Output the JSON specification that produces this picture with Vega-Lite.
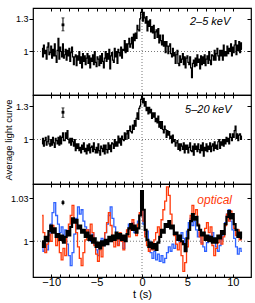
{
"$schema":"https://vega.github.io/schema/vega-lite/v6.json",
"padding":{"left":2,"top":6,"right":5,"bottom":0},
"spacing":0,
"bounds":"flush",
"config":{"view":{"stroke":"black","strokeWidth":1.2},"axis":{"grid":false,"domain":false,"tickColor":"black","tickWidth":1,"labelFont":"Liberation Sans","labelFontSize":9,"labelColor":"black","titleFont":"Liberation Sans","titleFontSize":11,"titleFontWeight":"normal","titleColor":"black","labelFlush":false,"minExtent":0}},
"datasets":{"x":[
{"t":-11.0,"h":1.03,"m":0.96},{"t":-10.9,"h":0.95,"m":1.01},{"t":-10.8,"h":1.06,"m":0.94},{"t":-10.7,"h":0.98,"m":0.99},{"t":-10.6,"h":1.01,"m":1.02},
{"t":-10.5,"h":0.93,"m":0.95},{"t":-10.4,"h":1.04,"m":0.98},{"t":-10.3,"h":1.08,"m":1.03},{"t":-10.2,"h":0.97,"m":0.96},{"t":-10.1,"h":0.99,"m":0.94},
{"t":-10.0,"h":1.05,"m":1.00},{"t":-9.9,"h":0.94,"m":0.95},{"t":-9.8,"h":1.02,"m":1.02},{"t":-9.7,"h":0.96,"m":0.97},{"t":-9.6,"h":1.07,"m":0.93},
{"t":-9.5,"h":0.96,"m":1.01},{"t":-9.4,"h":0.90,"m":0.99},{"t":-9.3,"h":1.01,"m":0.96},{"t":-9.2,"h":1.12,"m":1.02},{"t":-9.1,"h":0.93,"m":0.95},
{"t":-9.0,"h":1.04,"m":1.03},{"t":-8.9,"h":1.00,"m":0.96},{"t":-8.8,"h":0.95,"m":1.02},{"t":-8.7,"h":1.07,"m":1.06},{"t":-8.6,"h":0.94,"m":0.99},
{"t":-8.5,"h":0.97,"m":0.99},{"t":-8.4,"h":1.02,"m":1.06},{"t":-8.3,"h":0.92,"m":1.01},{"t":-8.2,"h":1.01,"m":1.08},{"t":-8.1,"h":0.96,"m":1.00},
{"t":-8.0,"h":1.03,"m":0.97},{"t":-7.9,"h":0.91,"m":1.01},{"t":-7.8,"h":0.99,"m":0.95},{"t":-7.7,"h":1.04,"m":1.01},{"t":-7.6,"h":0.95,"m":0.98},
{"t":-7.5,"h":0.88,"m":0.94},{"t":-7.4,"h":0.95,"m":1.00},{"t":-7.3,"h":0.97,"m":0.90},{"t":-7.2,"h":0.87,"m":0.96},{"t":-7.1,"h":0.96,"m":0.92},
{"t":-7.0,"h":0.92,"m":0.96},{"t":-6.9,"h":1.00,"m":0.90},{"t":-6.8,"h":0.89,"m":0.93},{"t":-6.7,"h":0.95,"m":0.88},{"t":-6.6,"h":0.85,"m":0.95},
{"t":-6.5,"h":0.98,"m":0.91},{"t":-6.4,"h":0.91,"m":0.97},{"t":-6.3,"h":0.96,"m":0.89},{"t":-6.2,"h":0.88,"m":0.92},{"t":-6.1,"h":0.94,"m":0.87},
{"t":-6.0,"h":0.98,"m":0.95},{"t":-5.9,"h":0.89,"m":0.90},{"t":-5.8,"h":0.96,"m":0.96},{"t":-5.7,"h":0.85,"m":0.88},{"t":-5.6,"h":0.94,"m":0.93},
{"t":-5.5,"h":0.91,"m":0.94},{"t":-5.4,"h":0.97,"m":0.89},{"t":-5.3,"h":0.88,"m":0.97},{"t":-5.2,"h":1.00,"m":0.91},{"t":-5.1,"h":0.90,"m":0.88},
{"t":-5.0,"h":0.86,"m":0.93},{"t":-4.9,"h":0.95,"m":0.88},{"t":-4.8,"h":0.93,"m":0.96},{"t":-4.7,"h":0.87,"m":0.90},{"t":-4.6,"h":0.96,"m":0.86},
{"t":-4.5,"h":0.89,"m":0.94},{"t":-4.4,"h":0.98,"m":0.92},{"t":-4.3,"h":0.91,"m":0.89},{"t":-4.2,"h":0.85,"m":0.95},{"t":-4.1,"h":0.94,"m":0.87},
{"t":-4.0,"h":1.00,"m":0.95},{"t":-3.9,"h":0.91,"m":0.91},{"t":-3.8,"h":0.98,"m":0.88},{"t":-3.7,"h":0.93,"m":0.97},{"t":-3.6,"h":1.02,"m":0.91},
{"t":-3.5,"h":0.84,"m":0.95},{"t":-3.4,"h":0.96,"m":0.89},{"t":-3.3,"h":0.99,"m":0.97},{"t":-3.2,"h":0.92,"m":0.96},{"t":-3.1,"h":0.90,"m":0.92},
{"t":-3.0,"h":1.03,"m":1.00},{"t":-2.9,"h":0.95,"m":0.94},{"t":-2.8,"h":1.00,"m":0.98},{"t":-2.7,"h":0.89,"m":0.94},{"t":-2.6,"h":1.02,"m":1.03},
{"t":-2.5,"h":0.99,"m":0.97},{"t":-2.4,"h":0.96,"m":1.01},{"t":-2.3,"h":1.04,"m":0.95},{"t":-2.2,"h":0.94,"m":1.03},{"t":-2.1,"h":1.02,"m":1.00},
{"t":-2.0,"h":1.01,"m":0.99},{"t":-1.9,"h":1.10,"m":1.06},{"t":-1.8,"h":0.99,"m":1.00},{"t":-1.7,"h":1.07,"m":1.05},{"t":-1.6,"h":1.00,"m":1.08},
{"t":-1.5,"h":1.07,"m":1.01},{"t":-1.4,"h":1.12,"m":1.08},{"t":-1.3,"h":1.04,"m":1.12},{"t":-1.2,"h":1.07,"m":1.07},{"t":-1.1,"h":1.13,"m":1.06},
{"t":-1.0,"h":1.03,"m":1.13},{"t":-0.9,"h":1.16,"m":1.09},{"t":-0.8,"h":1.10,"m":1.17},{"t":-0.7,"h":1.17,"m":1.12},{"t":-0.6,"h":1.12,"m":1.19},
{"t":-0.5,"h":1.24,"m":1.24},{"t":-0.4,"h":1.20,"m":1.18},{"t":-0.3,"h":1.19,"m":1.28},{"t":-0.2,"h":1.30,"m":1.30},{"t":-0.1,"h":1.36,"m":1.36},
{"t":0.0,"h":1.40,"m":1.41},{"t":0.1,"h":1.28,"m":1.33},{"t":0.2,"h":1.36,"m":1.37},{"t":0.3,"h":1.31,"m":1.30},{"t":0.4,"h":1.26,"m":1.34},
{"t":0.5,"h":1.32,"m":1.26},{"t":0.6,"h":1.19,"m":1.29},{"t":0.7,"h":1.28,"m":1.23},{"t":0.8,"h":1.23,"m":1.29},{"t":0.9,"h":1.29,"m":1.24},
{"t":1.0,"h":1.18,"m":1.27},{"t":1.1,"h":1.23,"m":1.19},{"t":1.2,"h":1.17,"m":1.24},{"t":1.3,"h":1.24,"m":1.20},{"t":1.4,"h":1.12,"m":1.24},
{"t":1.5,"h":1.18,"m":1.16},{"t":1.6,"h":1.20,"m":1.19},{"t":1.7,"h":1.13,"m":1.15},{"t":1.8,"h":1.21,"m":1.21},{"t":1.9,"h":1.08,"m":1.11},
{"t":2.0,"h":1.15,"m":1.16},{"t":2.1,"h":1.10,"m":1.10},{"t":2.2,"h":1.06,"m":1.16},{"t":2.3,"h":1.15,"m":1.09},{"t":2.4,"h":1.05,"m":1.06},
{"t":2.5,"h":1.09,"m":1.12},{"t":2.6,"h":0.99,"m":1.09},{"t":2.7,"h":1.09,"m":1.02},{"t":2.8,"h":1.05,"m":1.08},{"t":2.9,"h":0.98,"m":1.04},
{"t":3.0,"h":1.05,"m":1.07},{"t":3.1,"h":1.07,"m":1.01},{"t":3.2,"h":0.98,"m":1.03},{"t":3.3,"h":0.95,"m":0.97},{"t":3.4,"h":1.03,"m":1.04},
{"t":3.5,"h":0.96,"m":0.98},{"t":3.6,"h":0.99,"m":1.00},{"t":3.7,"h":0.89,"m":0.94},{"t":3.8,"h":0.97,"m":0.97},{"t":3.9,"h":1.01,"m":0.99},
{"t":4.0,"h":0.89,"m":0.91},{"t":4.1,"h":0.87,"m":0.96},{"t":4.2,"h":0.96,"m":0.90},{"t":4.3,"h":0.90,"m":0.96},{"t":4.4,"h":0.93,"m":0.94},
{"t":4.5,"h":0.98,"m":0.91},{"t":4.6,"h":0.88,"m":0.97},{"t":4.7,"h":0.95,"m":0.88},{"t":4.8,"h":0.85,"m":0.95},{"t":4.9,"h":0.94,"m":0.91},
{"t":5.0,"h":0.96,"m":0.95},{"t":5.1,"h":0.90,"m":0.88},{"t":5.2,"h":0.88,"m":0.93},{"t":5.3,"h":0.95,"m":0.97},{"t":5.4,"h":0.85,"m":0.90},
{"t":5.5,"h":0.76,"m":0.89},{"t":5.6,"h":0.89,"m":0.94},{"t":5.7,"h":0.92,"m":0.86},{"t":5.8,"h":0.86,"m":0.96},{"t":5.9,"h":0.94,"m":0.91},
{"t":6.0,"h":0.87,"m":0.94},{"t":6.1,"h":0.97,"m":0.89},{"t":6.2,"h":0.90,"m":0.96},{"t":6.3,"h":0.93,"m":0.91},{"t":6.4,"h":0.84,"m":0.88},
{"t":6.5,"h":0.96,"m":0.95},{"t":6.6,"h":0.88,"m":0.90},{"t":6.7,"h":0.95,"m":0.97},{"t":6.8,"h":0.89,"m":0.85},{"t":6.9,"h":0.97,"m":0.93},
{"t":7.0,"h":0.87,"m":0.90},{"t":7.1,"h":0.93,"m":0.96},{"t":7.2,"h":0.96,"m":0.89},{"t":7.3,"h":0.89,"m":0.94},{"t":7.4,"h":1.00,"m":0.91},
{"t":7.5,"h":0.92,"m":0.97},{"t":7.6,"h":0.88,"m":0.89},{"t":7.7,"h":0.97,"m":0.94},{"t":7.8,"h":0.96,"m":0.96},{"t":7.9,"h":0.92,"m":0.90},
{"t":8.0,"h":1.01,"m":0.98},{"t":8.1,"h":0.92,"m":0.92},{"t":8.2,"h":0.98,"m":0.95},{"t":8.3,"h":1.03,"m":0.91},{"t":8.4,"h":0.96,"m":0.98},
{"t":8.5,"h":0.92,"m":1.00},{"t":8.6,"h":1.01,"m":0.92},{"t":8.7,"h":0.96,"m":0.98},{"t":8.8,"h":1.01,"m":0.95},{"t":8.9,"h":0.92,"m":1.00},
{"t":9.0,"h":1.06,"m":0.94},{"t":9.1,"h":0.96,"m":1.00},{"t":9.2,"h":1.00,"m":0.96},{"t":9.3,"h":0.96,"m":1.02},{"t":9.4,"h":1.05,"m":0.98},
{"t":9.5,"h":0.98,"m":1.01},{"t":9.6,"h":1.03,"m":0.96},{"t":9.7,"h":1.00,"m":1.05},{"t":9.8,"h":1.07,"m":1.02},{"t":9.9,"h":0.96,"m":0.99},
{"t":10.0,"h":1.04,"m":1.05},{"t":10.1,"h":0.99,"m":1.02},{"t":10.2,"h":1.06,"m":1.08},{"t":10.3,"h":1.10,"m":1.12},{"t":10.4,"h":0.97,"m":1.01},
{"t":10.5,"h":1.06,"m":1.05},{"t":10.6,"h":1.01,"m":0.99},{"t":10.7,"h":1.09,"m":1.04},{"t":10.8,"h":0.99,"m":1.05},{"t":10.9,"h":1.08,"m":1.00},
{"t":11.0,"h":1.02,"m":1.03}
],
"o":[
{"t":-11.0,"k":1.000,"b":0.996,"r":1.018},{"t":-10.8,"k":0.996,"b":0.993,"r":1.006},{"t":-10.6,"k":1.003,"b":0.998,"r":0.992},{"t":-10.4,"k":1.000,"b":0.994,"r":0.998},{"t":-10.2,"k":1.007,"b":1.004,"r":1.005},
{"t":-10.0,"k":1.011,"b":1.012,"r":1.000},{"t":-9.8,"k":1.006,"b":1.020,"r":1.011},{"t":-9.6,"k":1.009,"b":1.027,"r":1.006},{"t":-9.4,"k":1.003,"b":1.018,"r":0.997},{"t":-9.2,"k":1.005,"b":1.012,"r":1.003},
{"t":-9.0,"k":1.001,"b":1.006,"r":0.992},{"t":-8.8,"k":1.004,"b":1.010,"r":0.987},{"t":-8.6,"k":0.999,"b":1.003,"r":0.995},{"t":-8.4,"k":1.003,"b":1.008,"r":0.990},{"t":-8.2,"k":1.007,"b":0.998,"r":1.004},
{"t":-8.0,"k":1.004,"b":0.990,"r":1.012},{"t":-7.8,"k":1.010,"b":0.983,"r":1.018},{"t":-7.6,"k":1.016,"b":0.992,"r":1.025},{"t":-7.4,"k":1.013,"b":1.005,"r":1.014},{"t":-7.2,"k":1.015,"b":1.016,"r":1.006},
{"t":-7.0,"k":1.009,"b":1.024,"r":0.996},{"t":-6.8,"k":1.011,"b":1.019,"r":0.988},{"t":-6.6,"k":1.006,"b":1.022,"r":0.983},{"t":-6.4,"k":1.008,"b":1.014,"r":0.992},{"t":-6.2,"k":1.003,"b":1.010,"r":1.001},
{"t":-6.0,"k":1.006,"b":1.004,"r":1.008},{"t":-5.8,"k":1.001,"b":1.008,"r":1.003},{"t":-5.6,"k":1.004,"b":1.000,"r":1.012},{"t":-5.4,"k":0.999,"b":1.005,"r":1.006},{"t":-5.2,"k":1.002,"b":0.998,"r":0.997},
{"t":-5.0,"k":0.996,"b":0.994,"r":0.991},{"t":-4.8,"k":0.999,"b":0.990,"r":0.986},{"t":-4.6,"k":0.995,"b":0.996,"r":0.994},{"t":-4.4,"k":1.000,"b":1.002,"r":0.989},{"t":-4.2,"k":0.997,"b":0.997,"r":0.998},
{"t":-4.0,"k":1.001,"b":1.006,"r":1.006},{"t":-3.8,"k":0.998,"b":1.012,"r":1.013},{"t":-3.6,"k":1.003,"b":1.018,"r":1.020},{"t":-3.4,"k":1.000,"b":1.024,"r":1.011},{"t":-3.2,"k":1.004,"b":1.016,"r":1.004},
{"t":-3.0,"k":1.001,"b":1.010,"r":0.996},{"t":-2.8,"k":1.006,"b":1.003,"r":1.003},{"t":-2.6,"k":1.002,"b":0.998,"r":0.997},{"t":-2.4,"k":1.005,"b":1.004,"r":1.006},{"t":-2.2,"k":1.001,"b":1.000,"r":1.000},
{"t":-2.0,"k":1.004,"b":0.995,"r":0.994},{"t":-1.8,"k":1.000,"b":1.002,"r":1.001},{"t":-1.6,"k":1.005,"b":1.007,"r":1.008},{"t":-1.4,"k":1.009,"b":1.012,"r":1.003},{"t":-1.2,"k":1.012,"b":1.008,"r":1.010},
{"t":-1.0,"k":1.008,"b":1.013,"r":1.015},{"t":-0.8,"k":1.011,"b":1.006,"r":1.009},{"t":-0.6,"k":1.006,"b":1.010,"r":1.004},{"t":-0.4,"k":1.009,"b":1.014,"r":1.012},{"t":-0.2,"k":1.018,"b":1.018,"r":1.020},
{"t":0.0,"k":1.035,"b":1.022,"r":1.031},{"t":0.2,"k":1.022,"b":1.012,"r":1.014},{"t":0.4,"k":1.008,"b":1.005,"r":1.003},{"t":0.6,"k":1.001,"b":1.007,"r":0.997},{"t":0.8,"k":0.996,"b":1.000,"r":0.993},
{"t":1.0,"k":0.999,"b":0.992,"r":0.998},{"t":1.2,"k":0.995,"b":0.988,"r":0.994},{"t":1.4,"k":0.998,"b":0.993,"r":1.001},{"t":1.6,"k":0.994,"b":0.987,"r":1.006},{"t":1.8,"k":0.999,"b":0.991,"r":1.010},
{"t":2.0,"k":1.003,"b":0.986,"r":1.004},{"t":2.2,"k":1.008,"b":0.990,"r":1.015},{"t":2.4,"k":1.006,"b":0.985,"r":1.022},{"t":2.6,"k":1.012,"b":0.988,"r":1.028},{"t":2.8,"k":1.010,"b":0.992,"r":1.038},
{"t":3.0,"k":1.014,"b":0.996,"r":1.032},{"t":3.2,"k":1.009,"b":0.993,"r":1.019},{"t":3.4,"k":1.011,"b":0.998,"r":1.010},{"t":3.6,"k":1.005,"b":0.995,"r":1.004},{"t":3.8,"k":1.006,"b":1.001,"r":0.998},
{"t":4.0,"k":1.001,"b":1.004,"r":0.994},{"t":4.2,"k":1.004,"b":1.000,"r":0.999},{"t":4.4,"k":1.000,"b":1.006,"r":0.990},{"t":4.6,"k":0.998,"b":1.002,"r":0.979},{"t":4.8,"k":0.993,"b":0.998,"r":0.985},
{"t":5.0,"k":1.002,"b":1.007,"r":0.996},{"t":5.2,"k":1.008,"b":1.013,"r":1.008},{"t":5.4,"k":1.014,"b":1.016,"r":1.018},{"t":5.6,"k":1.019,"b":1.011,"r":1.025},{"t":5.8,"k":1.015,"b":1.014,"r":1.019},
{"t":6.0,"k":1.017,"b":1.008,"r":1.022},{"t":6.2,"k":1.011,"b":1.003,"r":1.012},{"t":6.4,"k":1.008,"b":1.006,"r":1.003},{"t":6.6,"k":1.004,"b":0.999,"r":0.998},{"t":6.8,"k":1.006,"b":0.996,"r":1.004},
{"t":7.0,"k":1.001,"b":0.993,"r":1.009},{"t":7.2,"k":1.004,"b":0.999,"r":1.013},{"t":7.4,"k":1.000,"b":1.004,"r":1.006},{"t":7.6,"k":1.003,"b":1.000,"r":1.010},{"t":7.8,"k":0.999,"b":1.006,"r":0.997},
{"t":8.0,"k":1.002,"b":1.002,"r":0.990},{"t":8.2,"k":0.999,"b":0.996,"r":0.995},{"t":8.4,"k":1.004,"b":0.993,"r":0.999},{"t":8.6,"k":1.002,"b":0.997,"r":1.004},{"t":8.8,"k":1.007,"b":1.001,"r":0.998},
{"t":9.0,"k":1.005,"b":1.006,"r":1.003},{"t":9.2,"k":1.012,"b":1.013,"r":1.011},{"t":9.4,"k":1.017,"b":1.019,"r":1.019},{"t":9.6,"k":1.021,"b":1.022,"r":1.014},{"t":9.8,"k":1.016,"b":1.014,"r":1.021},
{"t":10.0,"k":1.019,"b":1.008,"r":1.016},{"t":10.2,"k":1.012,"b":1.002,"r":1.009},{"t":10.4,"k":1.008,"b":0.996,"r":1.004},{"t":10.6,"k":1.003,"b":0.991,"r":1.008},{"t":10.8,"k":1.006,"b":0.995,"r":1.001},
{"t":11.0,"k":1.002,"b":0.993,"r":1.005}
]},
"vconcat":[
{"width":218,"height":87,
 "layer":[
  {"data":{"values":[{}]},"mark":{"type":"rule","strokeDash":[1,2],"color":"#555","strokeWidth":0.8},
   "encoding":{"y":{"datum":1,"type":"quantitative","scale":{"domain":[0.6,1.4]},"axis":{"orient":"right","values":[1,1.3],"labels":false,"tickSize":-4,"title":null,"minExtent":0,"maxExtent":0}}}},
  {"data":{"values":[{}]},"mark":{"type":"rule","strokeDash":[1,2],"color":"#555","strokeWidth":0.8},
   "encoding":{"x":{"datum":0,"type":"quantitative","scale":{"domain":[-11,11]},"axis":{"orient":"top","values":[-10,-9,-8,-7,-6,-5,-4,-3,-2,-1,0,1,2,3,4,5,6,7,8,9,10],"labels":false,"tickSize":-3,"title":null,"minExtent":0,"maxExtent":0}}}},
  {"data":{"name":"x"},"mark":{"type":"line","interpolate":"step","color":"black","strokeWidth":1.2,"clip":true},
   "encoding":{"x":{"field":"t","type":"quantitative","scale":{"domain":[-11,11]},"axis":{"orient":"bottom","values":[-10,-9,-8,-7,-6,-5,-4,-3,-2,-1,0,1,2,3,4,5,6,7,8,9,10],"labels":false,"tickSize":-3,"title":null,"minExtent":0,"maxExtent":0}},
    "y":{"field":"h","type":"quantitative","scale":{"domain":[0.6,1.4]},"axis":{"orient":"left","values":[1,1.3],"labelExpr":"'' + datum.value","tickSize":4,"labelPadding":1,"title":null,"minExtent":0}}}},
  {"data":{"values":[{"t":-8.7,"v":1.245,"lo":1.19,"hi":1.309}]},
   "layer":[
    {"mark":{"type":"rule","color":"black","strokeWidth":1},"encoding":{"x":{"field":"t","type":"quantitative","axis":null},"y":{"field":"lo","type":"quantitative","axis":null},"y2":{"field":"hi"}}},
    {"mark":{"type":"tick","orient":"horizontal","size":3,"thickness":1,"color":"black"},"encoding":{"x":{"field":"t","type":"quantitative","axis":null},"y":{"field":"lo","type":"quantitative","axis":null}}},
    {"mark":{"type":"tick","orient":"horizontal","size":3,"thickness":1,"color":"black"},"encoding":{"x":{"field":"t","type":"quantitative","axis":null},"y":{"field":"hi","type":"quantitative","axis":null}}},
    {"mark":{"type":"square","size":8,"color":"black","filled":true,"opacity":1},"encoding":{"x":{"field":"t","type":"quantitative","axis":null},"y":{"field":"v","type":"quantitative","axis":null}}}
   ]},
  {"data":{"values":[{}]},"mark":{"type":"text","text":"2–5 keV","font":"Liberation Sans","fontStyle":"italic","fontSize":11,"color":"black"},
   "encoding":{"x":{"datum":7.5,"type":"quantitative","axis":null},"y":{"datum":1.27,"type":"quantitative","axis":null}}}
 ]},
{"width":218,"height":89,
 "layer":[
  {"data":{"values":[{}]},"mark":{"type":"rule","strokeDash":[1,2],"color":"#555","strokeWidth":0.8},
   "encoding":{"y":{"datum":1,"type":"quantitative","scale":{"domain":[0.6,1.4]},"axis":{"orient":"right","values":[1,1.3],"labels":false,"tickSize":-4,"title":null,"minExtent":0,"maxExtent":0}}}},
  {"data":{"values":[{}]},"mark":{"type":"rule","strokeDash":[1,2],"color":"#555","strokeWidth":0.8},
   "encoding":{"x":{"datum":0,"type":"quantitative","scale":{"domain":[-11,11]},"axis":{"orient":"top","values":[-10,-9,-8,-7,-6,-5,-4,-3,-2,-1,0,1,2,3,4,5,6,7,8,9,10],"labels":false,"tickSize":-3,"title":null,"minExtent":0,"maxExtent":0}}}},
  {"data":{"name":"x"},"mark":{"type":"line","interpolate":"step","color":"black","strokeWidth":1.2,"clip":true},
   "encoding":{"x":{"field":"t","type":"quantitative","scale":{"domain":[-11,11]},"axis":{"orient":"bottom","values":[-10,-9,-8,-7,-6,-5,-4,-3,-2,-1,0,1,2,3,4,5,6,7,8,9,10],"labels":false,"tickSize":-3,"title":null,"minExtent":0,"maxExtent":0}},
    "y":{"field":"m","type":"quantitative","scale":{"domain":[0.6,1.4]},"axis":{"orient":"left","values":[1,1.3],"labelExpr":"'' + datum.value","tickSize":4,"labelPadding":1,"title":"Average light curve","titleFontSize":9.5,"titlePadding":2,"minExtent":0}}}},
  {"data":{"values":[{"t":-8.7,"v":1.245,"lo":1.199,"hi":1.284}]},
   "layer":[
    {"mark":{"type":"rule","color":"black","strokeWidth":1},"encoding":{"x":{"field":"t","type":"quantitative","axis":null},"y":{"field":"lo","type":"quantitative","axis":null},"y2":{"field":"hi"}}},
    {"mark":{"type":"tick","orient":"horizontal","size":3,"thickness":1,"color":"black"},"encoding":{"x":{"field":"t","type":"quantitative","axis":null},"y":{"field":"lo","type":"quantitative","axis":null}}},
    {"mark":{"type":"tick","orient":"horizontal","size":3,"thickness":1,"color":"black"},"encoding":{"x":{"field":"t","type":"quantitative","axis":null},"y":{"field":"hi","type":"quantitative","axis":null}}},
    {"mark":{"type":"square","size":8,"color":"black","filled":true,"opacity":1},"encoding":{"x":{"field":"t","type":"quantitative","axis":null},"y":{"field":"v","type":"quantitative","axis":null}}}
   ]},
  {"data":{"values":[{}]},"mark":{"type":"text","text":"5–20 keV","font":"Liberation Sans","fontStyle":"italic","fontSize":11,"color":"black"},
   "encoding":{"x":{"datum":7.3,"type":"quantitative","axis":null},"y":{"datum":1.263,"type":"quantitative","axis":null}}}
 ]},
{"width":218,"height":93,
 "layer":[
  {"data":{"values":[{}]},"mark":{"type":"rule","strokeDash":[1,2],"color":"#555","strokeWidth":0.8},
   "encoding":{"y":{"datum":1,"type":"quantitative","scale":{"domain":[0.978,1.039]},"axis":{"orient":"right","values":[1,1.03],"labels":false,"tickSize":-4,"title":null,"minExtent":0,"maxExtent":0}}}},
  {"data":{"values":[{}]},"mark":{"type":"rule","strokeDash":[1,2],"color":"#555","strokeWidth":0.8},
   "encoding":{"x":{"datum":0,"type":"quantitative","scale":{"domain":[-11,11]},"axis":{"orient":"top","values":[-10,-9,-8,-7,-6,-5,-4,-3,-2,-1,0,1,2,3,4,5,6,7,8,9,10],"labels":false,"tickSize":-3,"title":null,"minExtent":0,"maxExtent":0}}}},
  {"data":{"name":"o"},"mark":{"type":"line","interpolate":"step","color":"#2f62ff","strokeWidth":1.3,"clip":true},
   "encoding":{"x":{"field":"t","type":"quantitative","scale":{"domain":[-11,11]},"axis":{"orient":"bottom","values":[-10,-9,-8,-7,-6,-5,-4,-3,-2,-1,0,1,2,3,4,5,6,7,8,9,10],"labelExpr":"datum.value % 5 === 0 ? datum.label : ''","tickSize":-3,"labelPadding":2,"labelFontSize":11,"title":"t (s)","titlePadding":1,"minExtent":0}},
    "y":{"field":"b","type":"quantitative","scale":{"domain":[0.978,1.039]},"axis":{"orient":"left","values":[1,1.03],"labelExpr":"'' + datum.value","tickSize":4,"labelPadding":1,"title":null,"minExtent":0}}}},
  {"data":{"name":"o"},"mark":{"type":"line","interpolate":"step","color":"#ff3a0a","strokeWidth":1.3,"clip":true},
   "encoding":{"x":{"field":"t","type":"quantitative","axis":null},"y":{"field":"r","type":"quantitative","axis":null}}},
  {"data":{"name":"o"},"mark":{"type":"line","interpolate":"step","color":"black","strokeWidth":2.2,"clip":true},
   "encoding":{"x":{"field":"t","type":"quantitative","axis":null},"y":{"field":"k","type":"quantitative","axis":null}}},
  {"data":{"values":[{"t":-8.7,"v":1.027,"lo":1.0252,"hi":1.0288}]},
   "layer":[
    {"mark":{"type":"rule","color":"black","strokeWidth":1},"encoding":{"x":{"field":"t","type":"quantitative","axis":null},"y":{"field":"lo","type":"quantitative","axis":null},"y2":{"field":"hi"}}},
    {"mark":{"type":"square","size":8,"color":"black","filled":true,"opacity":1},"encoding":{"x":{"field":"t","type":"quantitative","axis":null},"y":{"field":"v","type":"quantitative","axis":null}}}
   ]},
  {"data":{"values":[{}]},"mark":{"type":"text","text":"optical","font":"Liberation Sans","fontStyle":"italic","fontSize":12,"color":"#ff3a0a"},
   "encoding":{"x":{"datum":8.0,"type":"quantitative","axis":null},"y":{"datum":1.029,"type":"quantitative","axis":null}}}
 ]}
]
}
